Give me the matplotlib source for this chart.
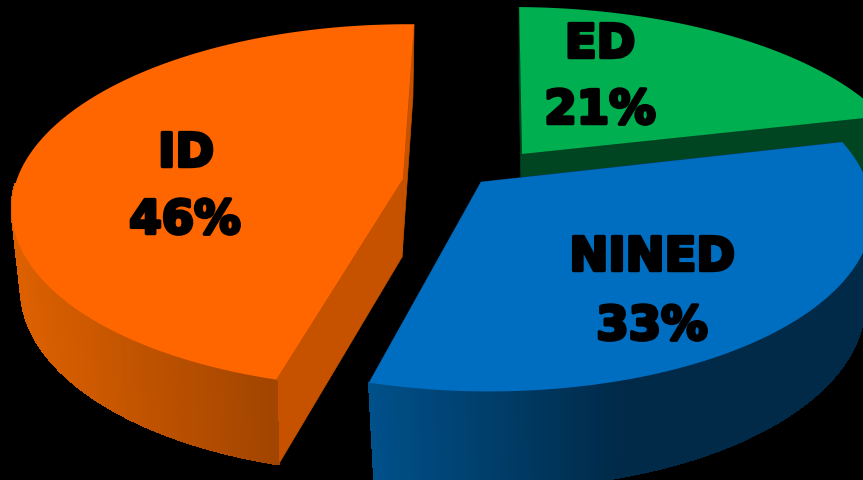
import numpy as np
import matplotlib
matplotlib.use("Agg")
import matplotlib.pyplot as plt
from matplotlib.collections import PolyCollection
from matplotlib.colors import to_rgb
import matplotlib.patheffects as pe

labels = ["ID", "NINED", "ED"]
shares = [46, 33, 21]

top_colors = ["#FF6600", "#006EC0", "#00AF50"]
cut_colors = ["#C65200", "#003A66", "#004521"]
wall_left = ["#DC6000", "#00508A", "#00602C"]
wall_right = ["#A04400", "#002A48", "#004521"]

# Per-slice placement on the canvas, in pixels: apex of the top face,
# apex of the base, sideways lean of the back edge, depth of the ellipse.
top_apex = [(403, 180), (481, 183), (522, 155)]
base_apex = [(402, 258), (483, 273), (522, 240)]
lean = [6, -7, -10]
depth = [178.0, 178.0, 169.0]
label_xy = [(186, 155), (652, 259), (600, 46)]
value_xy = [(185, 222), (652, 328), (600, 112)]

START_DEG = 89.0
RX, PERSP = 386.0, 0.15
BASE_RX, BASE_RY = 376.0, 184.0


def project(theta, apex, rx, ry, skew):
    u, v = np.cos(theta), np.sin(theta)
    w = 1 + PERSP * v
    return np.column_stack(
        (apex[0] + (rx * u + skew * v) / w, apex[1] - ry * v / w)
    )


fig = plt.figure(figsize=(8.63, 4.81), dpi=100, facecolor="black")
ax = fig.add_axes([0, 0, 1, 1], facecolor="black")
ax.set_xlim(0, 863)
ax.set_ylim(481, 0)
ax.axis("off")

spans = np.cumsum([0] + shares) / sum(shares) * 360.0 + START_DEG
font = dict(family="DejaVu Sans", weight="bold",
            color="black", ha="center", va="center", fontsize=33.5,
            zorder=20,
            path_effects=[pe.withStroke(linewidth=2.5, foreground="black")])

# The green slice goes first so the blue slice can sit over its cut face.
for order, i in enumerate([0, 2, 1]):
    base_z = order * 5
    arc = np.radians(np.linspace(spans[i], spans[i + 1], 160))
    top = project(arc, top_apex[i], RX, depth[i], lean[i])
    base = project(arc, base_apex[i], BASE_RX, BASE_RY, lean[i])

    # Cut faces running from the apex out to each end of the arc
    for end in (0, -1):
        ax.fill([top_apex[i][0], top[end, 0], base[end, 0], base_apex[i][0]],
                [top_apex[i][1], top[end, 1], base[end, 1], base_apex[i][1]],
                color=cut_colors[i], lw=0.5, zorder=base_z)

    # Outer wall, shaded strip by strip from left to right
    c0, c1 = np.array(to_rgb(wall_left[i])), np.array(to_rgb(wall_right[i]))
    strips, shades = [], []
    xmin, xmax = top[:, 0].min(), top[:, 0].max()
    for k in range(len(arc) - 1):
        if np.sin(arc[k]) > -0.02 and i == 0:
            continue
        if np.sin(arc[k]) > 0.05:
            continue
        strips.append([top[k], top[k + 1], base[k + 1], base[k]])
        f = (top[k, 0] - xmin) / max(xmax - xmin, 1)
        if i == 0:
            f = np.clip((top[k, 0] - 20) / (top[-1, 0] - 20), 0, 1)
        elif i == 1:
            f = np.clip((top[k, 0] - top[0, 0]) / 250.0, 0, 1)
        shades.append(c0 + (c1 - c0) * f)
    if strips:
        ax.add_collection(PolyCollection(strips, facecolors=shades,
                                         edgecolors=shades, linewidths=0.8,
                                         antialiaseds=False,
                                         zorder=base_z + 1))

    # Top face
    outline = np.vstack((top_apex[i], top))
    ax.fill(outline[:, 0], outline[:, 1], color=top_colors[i], lw=0,
            zorder=base_z + 2)

    ax.text(*label_xy[i], labels[i], **font)
    ax.text(*value_xy[i], f"{shares[i]}%", **font)

fig.savefig("out.png", dpi=100, facecolor="black")
